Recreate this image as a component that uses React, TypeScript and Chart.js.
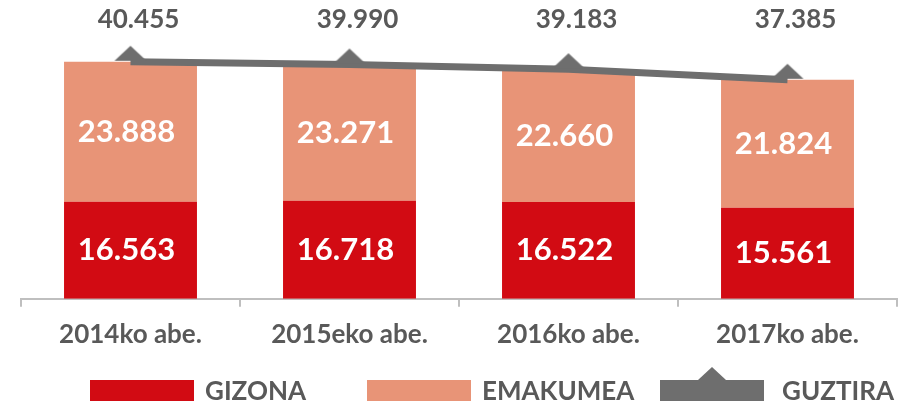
import React, { useEffect, useRef } from 'react';
import { Chart, registerables } from 'chart.js';

Chart.register(...registerables);

const categories = ['2014ko abe.', '2015eko abe.', '2016ko abe.', '2017ko abe.'];
const gizona = [16563, 16718, 16522, 15561];
const emakumea = [23888, 23271, 22660, 21824];
const guztira = [40455, 39990, 39183, 37385];
const seriesNames = ['GIZONA', 'EMAKUMEA', 'GUZTIRA'];

const RED = '#D20B13';
const SALMON = '#E89477';
const GRAY = '#6E6E6E';
const TEXT = '#595959';
const AXIS = '#BFBFBF';
const FONT = 'Lato, "Open Sans", sans-serif';

const fmt = (v: number) => String(v).replace(/\B(?=(\d{3})+(?!\d))/g, '.');

function makeTriangle(color: string) {
  const c = document.createElement('canvas');
  c.width = 34;
  c.height = 34;
  const ctx = c.getContext('2d')!;
  ctx.fillStyle = color;
  ctx.beginPath();
  ctx.moveTo(1, 16);
  ctx.lineTo(17, 1);
  ctx.lineTo(33, 16);
  ctx.closePath();
  ctx.fill();
  return c;
}

const labelPlugin = {
  id: 'valueLabels',
  afterDatasetsDraw(chart: any) {
    const ctx = chart.ctx;
    ctx.save();
    ctx.textAlign = 'center';
    ctx.textBaseline = 'middle';
    [0, 1].forEach((di) => {
      const meta = chart.getDatasetMeta(di);
      const data = chart.data.datasets[di].data as number[];
      meta.data.forEach((el: any, i: number) => {
        const { x, y, base } = el.getProps(['x', 'y', 'base'], true);
        ctx.fillStyle = '#FFFFFF';
        ctx.font = `bold 31px ${FONT}`;
        ctx.fillText(fmt(data[i]), x - 4, (y + base) / 2);
      });
    });
    const lmeta = chart.getDatasetMeta(2);
    const tdata = chart.data.datasets[2].data as number[];
    lmeta.data.forEach((el: any, i: number) => {
      const { x } = el.getProps(['x'], true);
      ctx.fillStyle = TEXT;
      ctx.font = `bold 26px ${FONT}`;
      ctx.fillText(fmt(tdata[i]), x + 8, chart.chartArea.top + 20);
    });
    ctx.restore();
  },
};

function ChartView() {
  const ref = useRef<HTMLCanvasElement | null>(null);
  useEffect(() => {
    if (!ref.current) return;
    const tri = makeTriangle(GRAY);
    const chart = new Chart(ref.current, {
      type: 'bar',
      data: {
        labels: categories,
        datasets: [
          {
            type: 'bar',
            label: seriesNames[0],
            data: gizona,
            backgroundColor: RED,
            stack: 'bars',
            order: 1,
            categoryPercentage: 0.607,
            barPercentage: 1,
          },
          {
            type: 'bar',
            label: seriesNames[1],
            data: emakumea,
            backgroundColor: SALMON,
            stack: 'bars',
            order: 1,
            categoryPercentage: 0.607,
            barPercentage: 1,
          },
          {
            type: 'line',
            label: seriesNames[2],
            data: guztira,
            borderColor: GRAY,
            backgroundColor: GRAY,
            borderWidth: 7,
            borderCapStyle: 'butt',
            pointStyle: tri as any,
            pointRadius: 5,
            pointHoverRadius: 5,
            stack: 'line',
            order: 0,
            fill: false,
            tension: 0,
            clip: false,
          } as any,
        ],
      },
      options: {
        responsive: false,
        animation: false,
        devicePixelRatio: 1,
        layout: { autoPadding: false, padding: { left: 21, right: 18, top: 0, bottom: 44 } },
        plugins: {
          legend: { display: false },
          tooltip: { enabled: false },
        },
        scales: {
          x: {
            stacked: true,
            offset: true,
            grid: {
              display: true,
              offset: true,
              drawOnChartArea: false,
              drawTicks: true,
              tickLength: 8,
              tickColor: AXIS,
              tickWidth: 2,
              color: AXIS,
              lineWidth: 2,
            },
            border: { display: true, color: AXIS, width: 2 },
            ticks: {
              padding: 12,
              color: TEXT,
              font: { family: FONT, size: 26, weight: 'bold' },
              maxRotation: 0,
              autoSkip: false,
            },
          },
          y: {
            display: false,
            stacked: true,
            min: 0,
            max: 51000,
          },
        },
      },
      plugins: [labelPlugin],
    } as any);
    return () => chart.destroy();
  }, []);
  return <canvas ref={ref} width={915} height={406} style={{ display: 'block', width: 915, height: 406 }} />;
}

const legendText: React.CSSProperties = {
  position: 'absolute',
  top: 380,
  height: 21,
  lineHeight: '21px',
  fontFamily: FONT,
  fontWeight: 700,
  fontSize: 26,
  color: TEXT,
  whiteSpace: 'nowrap',
};

export default function App() {
  return (
    <div style={{ position: 'absolute', left: 0, top: 0, width: 915, height: 406, background: '#fff', overflow: 'hidden' }}>
      <ChartView />
      <div style={{ position: 'absolute', left: 90, top: 380, width: 104, height: 21, background: RED }} />
      <div style={{ ...legendText, left: 205 }}>{seriesNames[0]}</div>
      <div style={{ position: 'absolute', left: 367, top: 380, width: 104, height: 21, background: SALMON }} />
      <div style={{ ...legendText, left: 482 }}>{seriesNames[1]}</div>
      <div style={{ position: 'absolute', left: 660, top: 380, width: 104, height: 21, background: GRAY }} />
      <div
        style={{
          position: 'absolute',
          left: 698,
          top: 367,
          width: 0,
          height: 0,
          borderLeft: '14px solid transparent',
          borderRight: '14px solid transparent',
          borderBottom: `13px solid ${GRAY}`,
        }}
      />
      <div style={{ ...legendText, left: 782 }}>{seriesNames[2]}</div>
    </div>
  );
}
